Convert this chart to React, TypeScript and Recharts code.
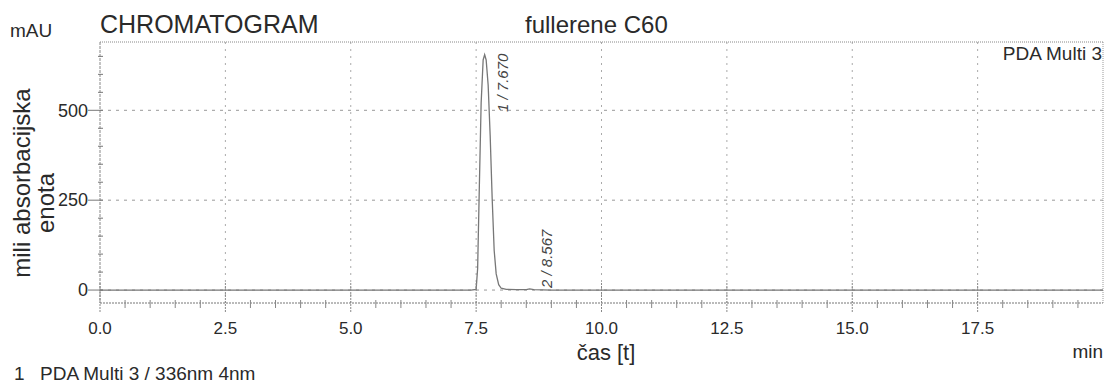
import { LineChart, Line, XAxis, YAxis, ReferenceLine, ReferenceDot } from "recharts";

// retention time (min) and absorbance (mAU)
const time = [0, 1, 2, 3, 4, 5, 6, 7, 7.4, 7.5, 7.53, 7.56, 7.6, 7.64, 7.67, 7.7, 7.74, 7.78, 7.82, 7.86, 7.9, 7.95, 8.0, 8.1, 8.3, 8.5, 8.567, 8.65, 9, 10, 11, 12, 13, 14, 15, 16, 17, 18, 19, 20];
const mau = [0, 0, 0, 0, 0, 0, 0, 0, 0, 2, 60, 260, 520, 640, 655, 640, 570, 430, 255, 110, 45, 15, 5, 2, 1, 1, 3, 1, 0, 0, 0, 0, 0, 0, 0, 0, 0, 0, 0, 0];

const xMajor = [0, 2.5, 5, 7.5, 10, 12.5, 15, 17.5];
const xTicks = [0, 0.5, 1, 1.5, 2, 2.5, 3, 3.5, 4, 4.5, 5, 5.5, 6, 6.5, 7, 7.5, 8, 8.5, 9, 9.5, 10, 10.5, 11, 11.5, 12, 12.5, 13, 13.5, 14, 14.5, 15, 15.5, 16, 16.5, 17, 17.5, 18, 18.5, 19, 19.5];
const yMajor = [0, 250, 500];
const yTicks = [0, 50, 100, 150, 200, 250, 300, 350, 400, 450, 500, 550, 600, 650];

const peaks = [
  { t: 7.67, h: 655, label: "1 / 7.670" },
  { t: 8.567, h: 3, label: "2 / 8.567" },
];

const data = time.map((t, i) => ({ t, v: mau[i] }));

const FONT = "Liberation Sans, Arial, sans-serif";
const INK = "#2a2a2a";

function XTick(props: any) {
  const { x, y, payload } = props;
  const major = xMajor.includes(payload.value);
  return (
    <g>
      <line x1={x} x2={x} y1={y - (major ? 20 : 3)} y2={y + (major ? 10 : 5)} stroke="#888" strokeDasharray={major ? "2 1" : undefined} />
      {major && (
        <text x={x} y={y + 31} textAnchor="middle" fontSize={17} fontFamily={FONT} fill={INK}>
          {payload.value.toFixed(1)}
        </text>
      )}
    </g>
  );
}

function YTick(props: any) {
  const { x, y, payload } = props;
  const major = yMajor.includes(payload.value);
  return (
    <g>
      <line x1={x - (major ? 12 : 2)} x2={x + 3} y1={y} y2={y} stroke="#777" />
      {major && (
        <text x={x - 12} y={y} dy="0.35em" textAnchor="end" fontSize={18} fontFamily={FONT} fill={INK}>
          {payload.value}
        </text>
      )}
    </g>
  );
}

function PeakLabel(label: string, dx: number, bottomY: number) {
  return (props: any) => {
    const { cx } = props;
    const x = cx + dx;
    return (
      <text x={x} y={bottomY} transform={`rotate(-90 ${x} ${bottomY})`} fontSize={15} fontFamily={FONT} fontStyle="italic" fill="#444">
        {label}
      </text>
    );
  };
}

export default function App() {
  return (
    <div style={{ position: "absolute", left: 0, top: 0, width: 1105, height: 385, background: "#fff" }}>
      <LineChart width={1105} height={385} data={data} margin={{ top: 42, right: 2, left: 40, bottom: 52 }}>
        <XAxis
          dataKey="t"
          type="number"
          domain={[0, 20]}
          ticks={xTicks}
          interval={0}
          tickSize={0}
          tickMargin={0}
          tickLine={false}
          tick={<XTick />}
          height={30}
          axisLine={{ stroke: "#777", strokeDasharray: "2 1" }}
        />
        <YAxis
          type="number"
          domain={[-36, 690]}
          allowDataOverflow
          ticks={yTicks}
          interval={0}
          tickSize={0}
          tickMargin={0}
          tickLine={false}
          tick={<YTick />}
          width={60}
          axisLine={{ stroke: "#888", strokeDasharray: "3 1" }}
        />
        {xMajor.slice(1).map((v) => (
          <ReferenceLine key={"gx" + v} x={v} stroke="#aaa" strokeDasharray="2 5" />
        ))}
        {yMajor.map((v) => (
          <ReferenceLine key={"gy" + v} y={v} stroke="#999" strokeDasharray="3 5" />
        ))}
        <ReferenceLine y={690} stroke="#888" strokeDasharray="1 1" />
        <ReferenceLine x={20} stroke="#999" strokeDasharray="1 1" />
        <Line dataKey="v" type="linear" stroke="#777" strokeWidth={1.3} dot={false} isAnimationActive={false} />
        <ReferenceDot x={peaks[0].t} y={peaks[0].h} r={0} shape={PeakLabel(peaks[0].label, 23, 112)} />
        <ReferenceDot x={peaks[1].t} y={peaks[1].h} r={0} shape={PeakLabel(peaks[1].label, 22, 288)} />
      </LineChart>

      <svg width={1105} height={385} style={{ position: "absolute", left: 0, top: 0, pointerEvents: "none" }} fontFamily={FONT} fill={INK}>
        <text x={10} y={37} fontSize={19}>mAU</text>
        <text x={100} y={33} fontSize={25}>CHROMATOGRAM</text>
        <text x={525} y={33} fontSize={24}>fullerene C60</text>
        <text x={1102} y={60} fontSize={19} textAnchor="end">PDA Multi 3</text>
        <text x={30} y={183} fontSize={24} textAnchor="middle" transform="rotate(-90 30 183)">mili absorbacijska</text>
        <text x={54} y={203} fontSize={24} textAnchor="middle" transform="rotate(-90 54 203)">enota</text>
        <text x={606} y={360} fontSize={22} textAnchor="middle">čas [t]</text>
        <text x={1103} y={358} fontSize={19} textAnchor="end">min</text>
        <text x={14} y={380} fontSize={19}>1</text>
        <text x={40} y={380} fontSize={19}>PDA Multi 3 / 336nm 4nm</text>
      </svg>
    </div>
  );
}
